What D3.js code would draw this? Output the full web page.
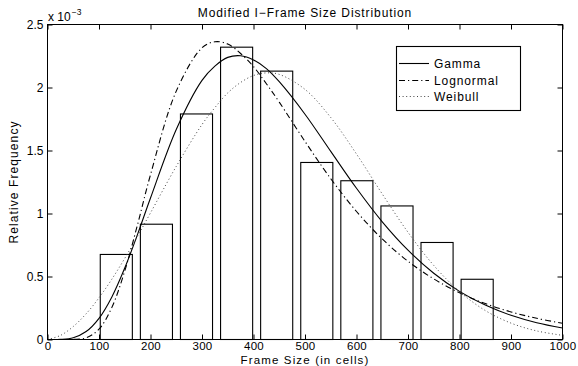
<!DOCTYPE html>
<html>
<head>
<meta charset="utf-8">
<script src="https://cdn.jsdelivr.net/npm/d3@7"></script>
<style>
  html, body { margin: 0; padding: 0; background: #fff; }
  svg text { font-family: "Liberation Sans", Arial, Helvetica, sans-serif; fill: #000; }
</style>
</head>
<body>
<svg id="chart" width="578" height="366"></svg>
<script>
// Histogram bins (bin centres, in cells) and relative frequencies (x 10^-3)
const binCenters = [133.6, 211.5, 289.3, 367.2, 445.0, 522.9, 600.7, 678.6, 756.4, 834.3];
const binFreq    = [0.675, 0.915, 1.79, 2.32, 2.13, 1.405, 1.26, 1.06, 0.77, 0.478];
const binWidth = 62.3;

// Fitted density curves, sampled along frame size (values x 10^-3)
const curveX     = [0, 25, 50, 75, 100, 125, 150, 175, 200, 250, 300, 325, 350, 375, 400, 425, 450, 500, 550, 600, 650, 700, 750, 800, 850, 900, 950, 1000];
const gammaY     = [0, 0.001, 0.014, 0.063, 0.168, 0.338, 0.567, 0.836, 1.123, 1.667, 2.057, 2.170, 2.239, 2.252, 2.219, 2.150, 2.046, 1.788, 1.493, 1.200, 0.934, 0.709, 0.526, 0.382, 0.273, 0.192, 0.133, 0.091];
const lognormalY = [0, 0, 0.001, 0.013, 0.082, 0.255, 0.544, 0.914, 1.308, 1.971, 2.315, 2.363, 2.345, 2.270, 2.166, 2.030, 1.884, 1.572, 1.276, 1.016, 0.798, 0.621, 0.481, 0.371, 0.285, 0.219, 0.168, 0.129];
const weibullY   = [0, 0.032, 0.103, 0.204, 0.331, 0.479, 0.644, 0.821, 1.005, 1.374, 1.706, 1.840, 1.957, 2.040, 2.095, 2.116, 2.104, 1.985, 1.762, 1.472, 1.155, 0.851, 0.588, 0.381, 0.230, 0.130, 0.068, 0.033];

const xTicks = [0, 100, 200, 300, 400, 500, 600, 700, 800, 900, 1000];
const yTicks = [0, 0.5, 1, 1.5, 2, 2.5];

const titleText = "Modified I\u2212Frame Size Distribution";
const xLabel = "Frame Size (in cells)";
const yLabel = "Relative Frequency";
const legendNames = ["Gamma", "Lognormal", "Weibull"];

const svg = d3.select("#chart");
const plotL = 47.5, plotR = 562.5, plotT = 24.5, plotB = 339.5;
const fontSize = 12;
const spacing = 0.9;

const x = d3.scaleLinear().domain([0, 1000]).range([plotL, plotR]);
const y = d3.scaleLinear().domain([0, 2.5]).range([plotB, plotT]);

// Bars
svg.append("g").selectAll("rect").data(binCenters).join("rect")
  .attr("x", (c) => x(c - binWidth / 2))
  .attr("width", (c) => x(c + binWidth / 2) - x(c - binWidth / 2))
  .attr("y", (c, i) => y(binFreq[i]))
  .attr("height", (c, i) => y(0) - y(binFreq[i]))
  .attr("fill", "#fff")
  .attr("stroke", "#000")
  .attr("stroke-width", 1.1);

// Curves
const line = d3.line()
  .x((d) => x(d[0]))
  .y((d) => y(d[1]))
  .curve(d3.curveCatmullRom.alpha(0.5));

const styles = [
  { data: gammaY, dash: null, color: "#000", width: 1.1 },
  { data: lognormalY, dash: "6,3,1.2,3", color: "#000", width: 1.1 },
  { data: weibullY, dash: "1,2.6", color: "#444", width: 1 }
];

styles.forEach((s) => {
  svg.append("path")
    .datum(curveX.map((v, i) => [v, s.data[i]]))
    .attr("d", line)
    .attr("fill", "none")
    .attr("stroke", s.color)
    .attr("stroke-width", s.width)
    .attr("stroke-dasharray", s.dash);
});

// Axes frame with inward ticks
const tickLen = 5;
svg.append("rect")
  .attr("x", plotL).attr("y", plotT)
  .attr("width", plotR - plotL).attr("height", plotB - plotT)
  .attr("fill", "none").attr("stroke", "#000").attr("stroke-width", 1);

const gx = svg.append("g").attr("transform", `translate(0,${plotB})`)
  .call(d3.axisBottom(x).tickValues(xTicks).tickSizeInner(-tickLen).tickSizeOuter(0).tickPadding(2.5).tickFormat(d3.format("d")));
const gxTop = svg.append("g").attr("transform", `translate(0,${plotT})`)
  .call(d3.axisTop(x).tickValues(xTicks).tickSizeInner(-tickLen).tickSizeOuter(0).tickFormat(""));
const gy = svg.append("g").attr("transform", `translate(${plotL},0)`)
  .call(d3.axisLeft(y).tickValues(yTicks).tickSizeInner(-tickLen).tickSizeOuter(0).tickPadding(4).tickFormat((d) => String(d)));
const gyRight = svg.append("g").attr("transform", `translate(${plotR},0)`)
  .call(d3.axisRight(y).tickValues(yTicks).tickSizeInner(-tickLen).tickSizeOuter(0).tickFormat(""));

[gx, gxTop, gy, gyRight].forEach((g) => {
  g.select(".domain").remove();
  g.selectAll("line").attr("stroke", "#000");
  g.selectAll("text").attr("font-size", fontSize).attr("fill", "#000")
    .style("font-family", "'Liberation Sans', Arial, sans-serif");
});
gx.selectAll("text").attr("font-size", 11.5).attr("letter-spacing", 0.3);

// Scale multiplier
const mult = svg.append("text").attr("x", 48).attr("y", 21).attr("font-size", fontSize);
mult.append("tspan").text("x 10");
mult.append("tspan").attr("font-size", 8.5).attr("dy", -6).attr("dx", 1).text("\u22123");

// Title and axis labels
svg.append("text").attr("x", (plotL + plotR) / 2).attr("y", 17)
  .attr("text-anchor", "middle").attr("font-size", fontSize)
  .attr("letter-spacing", spacing).text(titleText);
svg.append("text").attr("x", (plotL + plotR) / 2).attr("y", 363.5)
  .attr("text-anchor", "middle").attr("font-size", 11.5)
  .attr("letter-spacing", 1.15).text(xLabel);
svg.append("text")
  .attr("transform", `translate(17.5,${(plotT + plotB) / 2}) rotate(-90)`)
  .attr("text-anchor", "middle").attr("font-size", fontSize)
  .attr("letter-spacing", 1.1).text(yLabel);

// Legend
const lg = svg.append("g");
lg.append("rect").attr("x", 396.5).attr("y", 46.5).attr("width", 124).attr("height", 64)
  .attr("fill", "#fff").attr("stroke", "#000").attr("stroke-width", 1.1);
const rowY = [63.5, 80.5, 96.5];
legendNames.forEach((name, i) => {
  lg.append("line").attr("x1", 399).attr("x2", 429).attr("y1", rowY[i]).attr("y2", rowY[i])
    .attr("stroke", styles[i].color).attr("stroke-width", styles[i].width)
    .attr("stroke-dasharray", styles[i].dash);
  lg.append("text").attr("x", 434).attr("y", rowY[i]).attr("dy", "0.36em")
    .attr("font-size", fontSize).attr("letter-spacing", spacing).text(name);
});
</script>
</body>
</html>
